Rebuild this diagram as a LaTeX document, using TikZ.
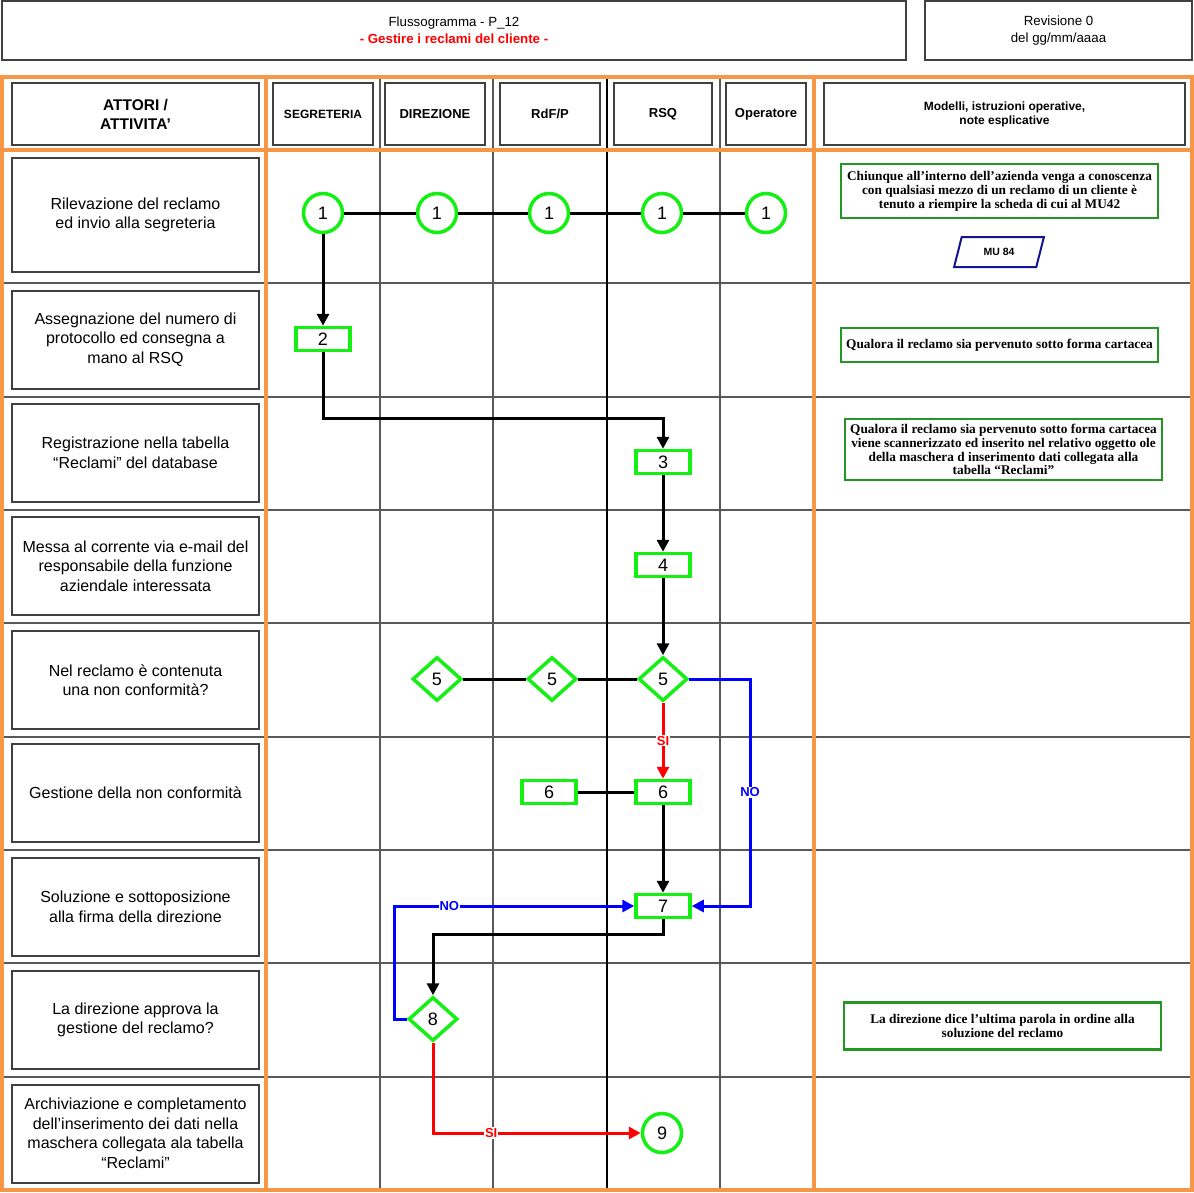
\documentclass[tikz,border=0pt]{standalone}
\usepackage{fontspec}
\setmainfont{Liberation Sans}
\newfontfamily\notefont{Liberation Serif}
\usepackage{tikz}
\usetikzlibrary{shapes,arrows.meta}
\definecolor{frameorange}{RGB}{247,150,70}
\definecolor{stepgreen}{RGB}{20,240,20}
\definecolor{notegreen}{RGB}{35,150,35}
\definecolor{docblue}{RGB}{20,20,140}
\tikzstyle{line} = [draw, line width=3pt, -{Triangle[length=12pt,width=12pt]}]
\tikzstyle{link} = [draw, line width=3pt]
\tikzstyle{lane} = [draw=black!65, line width=1.5pt]
\tikzstyle{frame} = [draw=frameorange, line width=3.5pt]
\tikzstyle{box} = [draw=black!75, line width=2pt, fill=white, inner sep=0pt, align=center]
\tikzstyle{activity} = [box, minimum width=247pt, minimum height=98pt, font=\fontsize{16}{19.5}\selectfont]
\tikzstyle{actor} = [box, minimum width=100pt, minimum height=62pt, font=\bfseries\fontsize{13}{15}\selectfont]
\tikzstyle{note} = [draw=notegreen, line width=2.2pt, fill=white, minimum width=317pt, inner sep=0pt, align=center, font=\notefont\bfseries\fontsize{13.3}{13.8}\selectfont]
\tikzstyle{circ} = [circle, draw=stepgreen, line width=3.5pt, fill=white, minimum size=39pt, inner sep=0pt, font=\fontsize{18}{18}\selectfont]
\tikzstyle{proc} = [rectangle, draw=stepgreen, line width=3.5pt, fill=white, minimum width=54pt, minimum height=23pt, inner sep=0pt, font=\fontsize{18}{18}\selectfont]
\tikzstyle{dec} = [diamond, draw=stepgreen, line width=3.5pt, fill=white, minimum width=49pt, minimum height=44pt, inner sep=0pt, font=\fontsize{18}{18}\selectfont]
\tikzstyle{answer} = [fill=white, inner sep=1pt, font=\bfseries\fontsize{13}{13}\selectfont]

\begin{document}
\begin{tikzpicture}[x=1pt, y=-1pt]
    \useasboundingbox (0,0) rectangle (1194,1192);
    \fill[white] (0,0) rectangle (1194,1192);
    % title
    \node[box, minimum width=904pt, minimum height=59pt, font=\fontsize{13.3}{17}\selectfont] (title) at (454,30.5) {Flussogramma - P\_12\\ \textcolor{red}{\bfseries - Gestire i reclami del cliente -}};
    \node[box, minimum width=267pt, minimum height=59pt, font=\fontsize{13.3}{17}\selectfont] (rev) at (1058.5,30.5) {Revisione 0\\del gg/mm/aaaa};
    % lanes
    \draw[lane] (2,283) -- (1192,283);
    \draw[lane] (2,397) -- (1192,397);
    \draw[lane] (2,510) -- (1192,510);
    \draw[lane] (2,623) -- (1192,623);
    \draw[lane] (2,737) -- (1192,737);
    \draw[lane] (2,850) -- (1192,850);
    \draw[lane] (2,963) -- (1192,963);
    \draw[lane] (2,1077) -- (1192,1077);
    \draw[lane] (380,77) -- (380,1190);
    \draw[lane] (493,77) -- (493,1190);
    \draw[lane, draw=black, line width=1.2pt] (607,77) -- (607,1190);
    \draw[lane] (720,77) -- (720,1190);
    % frame
    \draw[frame] (2,77) rectangle (1192,1190);
    \draw[frame] (2,150) -- (1192,150);
    \draw[frame] (266,77) -- (266,1190);
    \draw[frame] (814,77) -- (814,1190);
    % headers
    \node[actor, minimum width=247pt, font=\bfseries\fontsize{15.5}{19}\selectfont] (attori) at (135.5,114) {ATTORI /\\ATTIVITA’};
    \node[actor, font=\bfseries\fontsize{12}{14}\selectfont] (segr) at (323,114) {SEGRETERIA};
    \node[actor] (dir) at (435,114) {DIREZIONE};
    \node[actor] (rdf) at (550,114) {RdF/P};
    \node[actor, minimum width=98pt] (rsq) at (663,114) {RSQ};
    \node[actor, minimum width=80pt] (oper) at (766,114) {Operatore};
    \node[actor, minimum width=361pt, font=\bfseries\fontsize{12}{14}\selectfont] (modelli) at (1004.5,114) {Modelli, istruzioni operative,\\note esplicative};
    % activities
    \node[activity, minimum height=114pt] (a1) at (135.5,215) {Rilevazione del reclamo\\ed invio alla segreteria};
    \node[activity] (a2) at (135.5,339.5) {Assegnazione del numero di\\protocollo ed consegna a\\mano al RSQ};
    \node[activity] (a3) at (135.5,453) {Registrazione nella tabella\\“Reclami” del database};
    \node[activity] (a4) at (135.5,566) {Messa al corrente via e-mail del\\responsabile della funzione\\aziendale interessata};
    \node[activity] (a5) at (135.5,680) {Nel reclamo è contenuta\\una non conformità?};
    \node[activity] (a6) at (135.5,793) {Gestione della non conformità};
    \node[activity] (a7) at (135.5,907) {Soluzione e sottoposizione\\alla firma della direzione};
    \node[activity] (a8) at (135.5,1020) {La direzione approva la\\gestione del reclamo?};
    \node[activity] (a9) at (135.5,1133.5) {Archiviazione e completamento\\dell’inserimento dei dati nella\\maschera collegata ala tabella\\“Reclami”};
    % steps
    \node[circ] (c1a) at (323,213) {1};
    \node[circ] (c1b) at (437,213) {1};
    \node[circ] (c1c) at (549,213) {1};
    \node[circ] (c1d) at (662,213) {1};
    \node[circ] (c1e) at (766,213) {1};
    \node[proc] (p2) at (323,339) {2};
    \node[proc] (p3) at (663,462) {3};
    \node[proc] (p4) at (663,565) {4};
    \node[dec] (d5a) at (437,679) {5};
    \node[dec] (d5b) at (552,679) {5};
    \node[dec] (d5c) at (663,679) {5};
    \node[proc] (p6a) at (549,792) {6};
    \node[proc] (p6b) at (663,792) {6};
    \node[proc] (p7) at (663,906) {7};
    \node[dec] (d8) at (433,1019) {8};
    \node[circ] (c9) at (662,1133) {9};
    \coordinate (k3) at (663,418);
    \coordinate (k5) at (750,679);
    \coordinate (k7) at (750,906);
    \coordinate (k8) at (433,934);
    \coordinate (k8a) at (394,1019);
    \coordinate (k8b) at (394,906);
    \coordinate (k9) at (433,1133);
    % connectors
    \path [link] (c1a) -- (c1b) -- (c1c) -- (c1d) -- (c1e);
    \path [line] (c1a) -- (p2);
    \path [line] (p2) |- (k3) -- (p3);
    \path [line] (p3) -- (p4);
    \path [line] (p4) -- (d5c);
    \path [link] (d5a) -- (d5b) -- (d5c);
    \path [line, red] (d5c) -- node[answer] {SI} (p6b);
    \path [line, blue] (d5c) -- (k5) -- node[answer] {NO} (k7) -- (p7);
    \path [link] (p6a) -- (p6b);
    \path [line] (p6b) -- (p7);
    \path [line] (p7) |- (k8) -- (d8);
    \path [line, blue] (d8) -- (k8a) -- (k8b) -- node[answer, pos=0.23] {NO} (p7);
    \path [line, red] (d8) -- (k9) -- node[answer, pos=0.28] {SI} (c9);
    % notes
    \node[note, minimum height=54pt] (n1) at (999.5,191) {Chiunque all’interno dell’azienda venga a conoscenza\\con qualsiasi mezzo di un reclamo di un cliente è\\tenuto a riempire la scheda di cui al MU42};
    \node[trapezium, trapezium left angle=67, trapezium right angle=113, trapezium stretches=true, minimum width=90pt, minimum height=30pt, draw=docblue, line width=2pt, inner sep=0pt, font=\bfseries\fontsize{10.5}{10.5}\selectfont] (mu) at (999,252) {MU 84};
    \node[note, minimum height=34pt] (n2) at (999.5,345) {Qualora il reclamo sia pervenuto sotto forma cartacea};
    \node[note, minimum height=61pt] (n3) at (1003.5,449.5) {Qualora il reclamo sia pervenuto sotto forma cartacea\\viene scannerizzato ed inserito nel relativo oggetto ole\\della maschera d inserimento dati collegata alla\\tabella “Reclami”};
    \node[note, minimum height=47pt] (n4) at (1002.5,1026) {La direzione dice l’ultima parola in ordine alla\\soluzione del reclamo};
\end{tikzpicture}
\end{document}
